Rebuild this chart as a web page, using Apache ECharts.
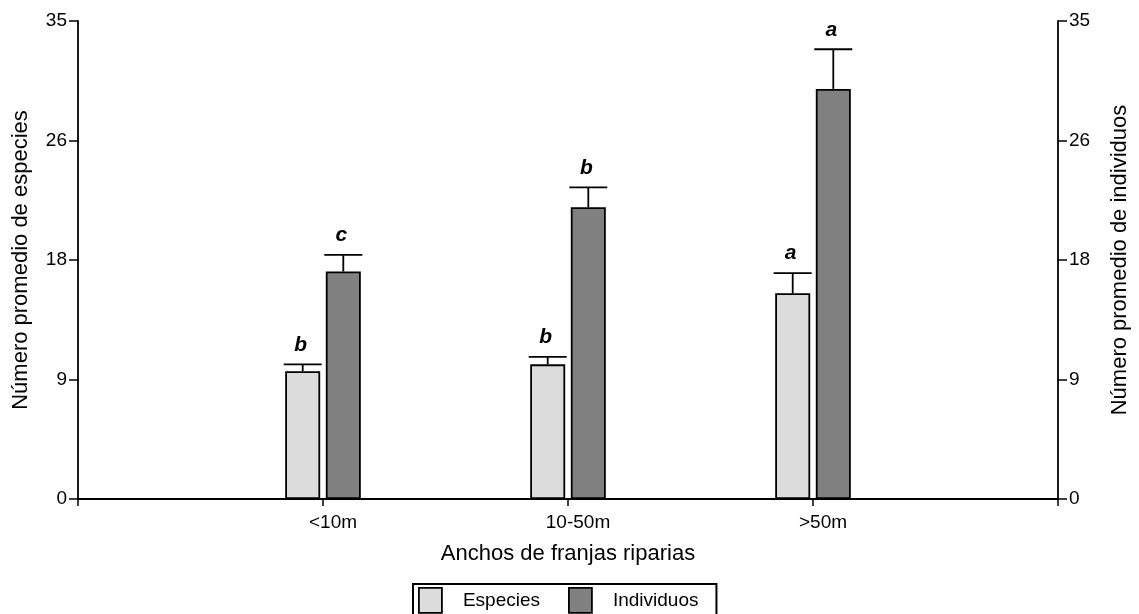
<!DOCTYPE html>
<html>
<head>
<meta charset="utf-8">
<script src="https://cdn.jsdelivr.net/npm/echarts@6/dist/echarts.min.js"></script>
<style>
html,body{margin:0;padding:0;background:#fff;}
#chart{width:1139px;height:614px;}
</style>
</head>
<body>
<div id="chart"></div>
<script>
// ---- data ----
var categories = ['<10m', '10-50m', '>50m'];
var especiesMean = [9.35, 9.86, 15.07];
var especiesErr = [0.51, 0.54, 1.47];
var individuosMean = [16.66, 21.36, 30.03];
var individuosErr = [1.22, 1.46, 2.90];
var especiesSig = ['b', 'b', 'a'];
var individuosSig = ['c', 'b', 'a'];
var yMin = 0, yMax = 35, yInterval = 8.75;

// ---- build ----
var FONT = "'Liberation Sans', Arial, sans-serif";
var BAR_W = 35, BAR_GAP = 0.16;
var OFFSET = (BAR_W + BAR_W * BAR_GAP) / 2;
var xCats = [' '].concat(categories).concat(['  ']);
function pad(arr) { return ['-'].concat(arr).concat(['-']); }

function errData(mean, err, sig) {
  return mean.map(function (m, i) { return [i + 1, m, m + err[i], sig[i]]; });
}
function errSeries(name, mean, err, sig, dir) {
  return {
    type: 'custom',
    name: name + '_err',
    coordinateSystem: 'cartesian2d',
    xAxisIndex: 0, yAxisIndex: 0,
    silent: true,
    z: 5,
    encode: { x: 0, y: 2 },
    data: errData(mean, err, sig),
    renderItem: function (params, api) {
      var x = api.value(0);
      var top = api.coord([x, api.value(2)]);
      var base = api.coord([x, api.value(1)]);
      var cx = top[0] + dir * OFFSET;
      var capHalf = 19;
      return {
        type: 'group',
        children: [
          { type: 'line', shape: { x1: cx, y1: base[1], x2: cx, y2: top[1] },
            style: { stroke: '#000', lineWidth: 1.8 } },
          { type: 'line', shape: { x1: cx - capHalf, y1: top[1], x2: cx + capHalf, y2: top[1] },
            style: { stroke: '#000', lineWidth: 1.8 } },
          { type: 'text', x: cx - 2, y: top[1] - 9,
            style: { text: api.value(3), fill: '#000', font: 'italic bold 21px ' + FONT,
                     align: 'center', verticalAlign: 'bottom' } }
        ]
      };
    }
  };
}

var yAxisCommon = {
  type: 'value', min: yMin, max: yMax, interval: yInterval,
  axisLine: { show: true, lineStyle: { color: '#000', width: 1.8 } },
  axisTick: { show: true, length: 9, lineStyle: { color: '#000', width: 1.5 } },
  splitLine: { show: false },
  axisLabel: { color: '#000', fontSize: 19, fontFamily: FONT, margin: 11,
               formatter: function (v) { return String(Math.round(v)); } },
  nameLocation: 'middle',
  nameTextStyle: { color: '#000', fontSize: 22, fontFamily: FONT }
};

var option = {
  animation: false,
  backgroundColor: '#fff',
  grid: { left: 78, right: 79, top: 21, bottom: 115, containLabel: false },
  legend: {
    data: ['Especies', 'Individuos'],
    left: 413, top: 584,
    icon: 'rect', itemWidth: 23, itemHeight: 25, itemGap: 28,
    padding: [3, 18, 3, 5],
    borderColor: '#000', borderWidth: 2,
    itemStyle: { borderColor: '#000', borderWidth: 1.8 },
    textStyle: { color: '#000', fontSize: 19, fontFamily: FONT, padding: [0, 0, 0, 16] }
  },
  xAxis: {
    type: 'category', data: xCats, boundaryGap: false,
    axisLine: { show: true, lineStyle: { color: '#000', width: 1.8 } },
    axisTick: { show: true, length: 7, interval: 0, lineStyle: { color: '#000', width: 1.5 } },
    axisLabel: { color: '#000', fontSize: 19, fontFamily: FONT, margin: 14, interval: 0,
                 padding: [0, 0, 0, 20] },
    name: 'Anchos de franjas riparias', nameLocation: 'middle', nameGap: 44,
    nameTextStyle: { color: '#000', fontSize: 22, fontFamily: FONT }
  },
  yAxis: [
    Object.assign({}, yAxisCommon, { position: 'left', name: 'Número promedio de especies', nameGap: 46 }),
    Object.assign({}, yAxisCommon, { position: 'right', name: 'Número promedio de individuos', nameGap: 51 })
  ],
  series: [
    { type: 'bar', name: 'Especies', data: pad(especiesMean), barWidth: BAR_W, barGap: (BAR_GAP * 100) + '%',
      itemStyle: { color: '#dcdcdc', borderColor: '#000', borderWidth: 1.8 } },
    { type: 'bar', name: 'Individuos', data: pad(individuosMean), barWidth: BAR_W,
      itemStyle: { color: '#808080', borderColor: '#000', borderWidth: 1.8 } },
    errSeries('Especies', especiesMean, especiesErr, especiesSig, -1),
    errSeries('Individuos', individuosMean, individuosErr, individuosSig, 1)
  ]
};

var chart = echarts.init(document.getElementById('chart'), null, { renderer: 'canvas' });
chart.setOption(option);
</script>
</body>
</html>
